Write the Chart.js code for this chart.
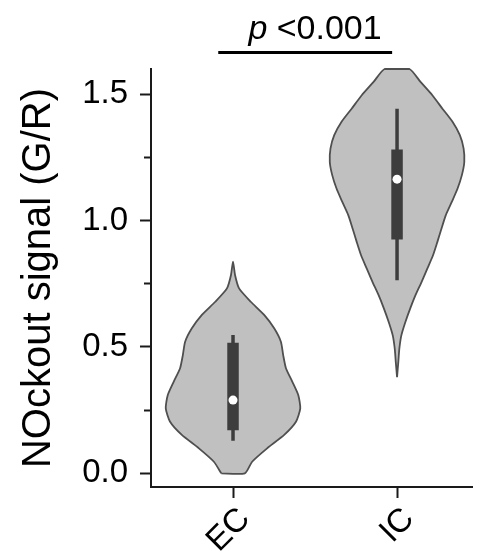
<!DOCTYPE html>
<html>
<head>
<meta charset="utf-8">
<script src="https://cdn.jsdelivr.net/npm/chart.js@4.4.1/dist/chart.umd.min.js"></script>
<style>
  html, body { margin: 0; padding: 0; background: #fff; }
  #wrap { width: 477px; height: 559px; position: relative; }
</style>
</head>
<body>
<div id="wrap"><canvas id="chart"></canvas></div>
<script>
const categories = ['EC', 'IC'];
const categoryPositions = [1, 2];

// violin outlines: value levels and relative density (widest = 1)
const ecLevels = [0.0, 0.046, 0.099, 0.152, 0.204, 0.257, 0.310, 0.363, 0.416, 0.468, 0.521, 0.574, 0.627, 0.679, 0.732, 0.785, 0.838];
const ecDensity = [0.175, 0.284, 0.507, 0.761, 0.936, 1.0, 0.970, 0.881, 0.787, 0.746, 0.712, 0.612, 0.463, 0.264, 0.090, 0.030, 0];
const icLevels = [0.381, 0.441, 0.493, 0.546, 0.599, 0.652, 0.705, 0.757, 0.810, 0.863, 0.916, 0.968, 1.021, 1.074, 1.127, 1.180, 1.232, 1.285, 1.338, 1.391, 1.443, 1.496, 1.549, 1.6];
const icDensity = [0, 0.019, 0.034, 0.064, 0.124, 0.195, 0.274, 0.364, 0.450, 0.535, 0.600, 0.660, 0.724, 0.814, 0.900, 0.964, 1.0, 0.990, 0.934, 0.825, 0.675, 0.525, 0.349, 0.184];

// whisker low, q1, median, q3, whisker high
const ecBox = [0.129, 0.171, 0.290, 0.517, 0.547];
const icBox = [0.764, 0.925, 1.164, 1.281, 1.443];

const yTickValues = [0, 0.25, 0.5, 0.75, 1.0, 1.25, 1.5];
const yTickLabels = ['0.0', '', '0.5', '', '1.0', '', '1.5'];

const pText = '<0.001';

const fontFamily = "'Liberation Sans', Arial, sans-serif";
const violinHalfWidth = 0.41;
const axisColor = '#1a1a1a';

function violinOutline(pos, levels, density) {
  const left = levels.map((v, i) => ({ x: pos - density[i] * violinHalfWidth, y: v }));
  const right = levels.map((v, i) => ({ x: pos + density[i] * violinHalfWidth, y: v })).reverse();
  const pts = [];
  left.concat(right).forEach(p => {
    const last = pts[pts.length - 1];
    if (!last || last.x !== p.x || last.y !== p.y) pts.push(p);
  });
  pts.push({ ...pts[0] });
  return pts;
}

const groups = [
  { pos: categoryPositions[0], levels: ecLevels, density: ecDensity, box: ecBox },
  { pos: categoryPositions[1], levels: icLevels, density: icDensity, box: icBox }
];

const datasets = [];
groups.forEach(g => {
  datasets.push({
    data: violinOutline(g.pos, g.levels, g.density),
    borderColor: '#4f4f4f',
    borderWidth: 1.8,
    backgroundColor: '#c0c0c0',
    fill: 'shape',
    tension: 0.2,
    pointRadius: 0,
    clip: 3,
    order: 4
  });
  datasets.push({
    data: [{ x: g.pos, y: g.box[0] }, { x: g.pos, y: g.box[4] }],
    borderColor: '#3d3d3d',
    borderWidth: 3.5,
    borderCapStyle: 'butt',
    pointRadius: 0,
    order: 3
  });
  datasets.push({
    data: [{ x: g.pos, y: g.box[1] }, { x: g.pos, y: g.box[3] }],
    borderColor: '#3d3d3d',
    borderWidth: 11.5,
    borderCapStyle: 'butt',
    pointRadius: 0,
    order: 2
  });
  datasets.push({
    data: [{ x: g.pos, y: g.box[2] }],
    showLine: false,
    pointRadius: 4.5,
    pointBackgroundColor: '#ffffff',
    pointBorderWidth: 0,
    order: 1
  });
});

// significance bar and p value above the plot
const pValuePlugin = {
  id: 'pValue',
  afterDraw(chart) {
    const { ctx } = chart;
    const x = chart.scales.x, y = chart.scales.y;
    const x1 = x.getPixelForValue(0.91), x2 = x.getPixelForValue(1.97);
    const yLine = y.getPixelForValue(1.665);
    ctx.save();
    ctx.strokeStyle = '#000';
    ctx.lineWidth = 3;
    ctx.beginPath();
    ctx.moveTo(x1, yLine);
    ctx.lineTo(x2, yLine);
    ctx.stroke();

    ctx.fillStyle = '#000';
    ctx.textBaseline = 'alphabetic';
    ctx.textAlign = 'left';
    const italic = 'italic 34px ' + fontFamily;
    const normal = '34px ' + fontFamily;
    ctx.font = italic;
    const wp = ctx.measureText('p ').width;
    ctx.font = normal;
    const wr = ctx.measureText(pText).width;
    const cx = x.getPixelForValue(1.5);
    const base = y.getPixelForValue(1.72);
    const start = cx - (wp + wr) / 2;
    ctx.font = italic;
    ctx.fillText('p ', start, base);
    ctx.font = normal;
    ctx.fillText(pText, start + wp, base);
    ctx.restore();
  }
};

Chart.defaults.font.family = fontFamily;
Chart.defaults.color = '#000';

new Chart(document.getElementById('chart').getContext('2d'), {
  type: 'line',
  data: { datasets },
  plugins: [pValuePlugin],
  options: {
    responsive: true,
    maintainAspectRatio: false,
    animation: false,
    layout: { padding: { top: 69, left: 0, right: 0, bottom: 0 } },
    plugins: { legend: { display: false }, tooltip: { enabled: false } },
    scales: {
      x: {
        type: 'linear',
        min: 0.5,
        max: 2.46,
        afterBuildTicks: s => { s.ticks = categoryPositions.map(v => ({ value: v })); },
        afterFit: s => { s.height = 72; },
        ticks: {
          callback: v => categories[categoryPositions.indexOf(v)],
          minRotation: 45,
          maxRotation: 45,
          autoSkip: false,
          labelOffset: 12,
          padding: 2,
          font: { size: 33 },
          color: '#000'
        },
        grid: { drawOnChartArea: false, tickLength: 11, tickWidth: 2, tickColor: axisColor },
        border: { color: axisColor, width: 2 }
      },
      y: {
        min: -0.054,
        max: 1.6,
        afterBuildTicks: s => { s.ticks = yTickValues.map(v => ({ value: v })); },
        afterFit: s => { s.width = 151; },
        ticks: {
          callback: v => yTickLabels[yTickValues.indexOf(v)],
          autoSkip: false,
          padding: 12,
          font: { size: 33 },
          color: '#000'
        },
        grid: {
          drawOnChartArea: false,
          tickLength: 11,
          tickWidth: 2,
          tickColor: axisColor,
          tickBorderDash: ctx => (yTickLabels[yTickValues.indexOf(ctx.tick.value)] === '' ? [0, 4, 20] : [])
        },
        border: { color: axisColor, width: 2 },
        title: {
          display: true,
          text: 'NOckout signal (G/R)',
          font: { size: 40 },
          color: '#000',
          padding: { top: 15, bottom: 0 }
        }
      }
    }
  }
});
</script>
</body>
</html>
